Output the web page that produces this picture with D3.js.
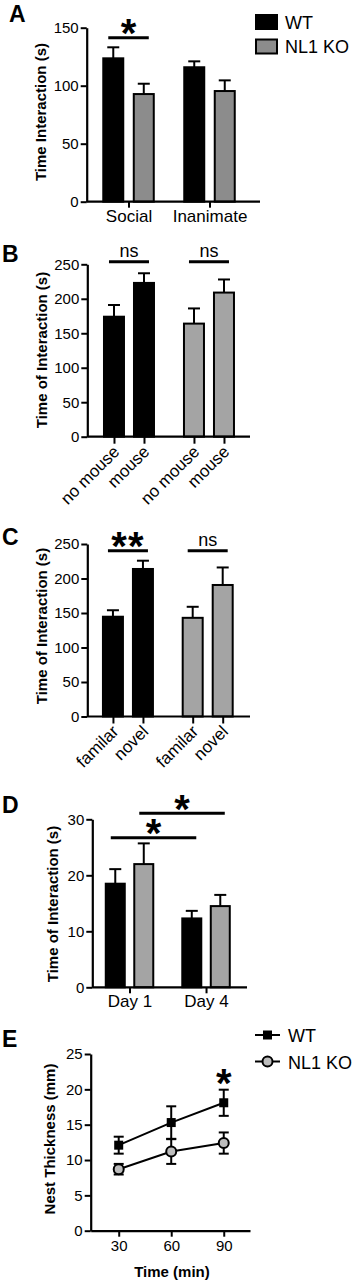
<!DOCTYPE html>
<html><head><meta charset="utf-8">
<script src="https://cdn.jsdelivr.net/npm/d3@7"></script>
<style>
body{margin:0;background:#fff}
svg{display:block}
text{font-family:'Liberation Sans',Arial,Helvetica,sans-serif}
</style>
</head><body><script>
// ================= DATA =================
const seriesNames = ["WT", "NL1 KO"];

// Panel A
const aCategories = ["Social", "Inanimate"];
const aWT = [123.6, 115.9];
const aWTsem = [9.5, 5.1];
const aKO = [92.8, 95.4];
const aKOsem = [8.9, 9.2];
const aTicks = [0, 50, 100, 150];
const aTitle = "Time Interaction (s)";
const aSig = [{ a: ["Social", "WT"], b: ["Social", "NL1 KO"], level: 141.4, label: "*" }];

// Panel B
const bConditions = ["no mouse", "mouse"];
const bWT = [174, 223];
const bWTsem = [17, 14];
const bKO = [164, 209];
const bKOsem = [22, 19];
const bTicks = [0, 50, 100, 150, 200, 250];
const bTitle = "Time of Interaction (s)";
const bSig = [
  { a: ["WT", "no mouse"], b: ["WT", "mouse"], level: 253.8, label: "ns" },
  { a: ["NL1 KO", "no mouse"], b: ["NL1 KO", "mouse"], level: 253.8, label: "ns" }
];

// Panel C
const cConditions = ["familar", "novel"];
const cWT = [144.6, 213.8];
const cWTsem = [9.4, 12];
const cKO = [143, 190.6];
const cKOsem = [16, 25.4];
const cTicks = [0, 50, 100, 150, 200, 250];
const cTitle = "Time of Interaction (s)";
const cSig = [
  { a: ["WT", "familar"], b: ["WT", "novel"], level: 240.3, label: "**" },
  { a: ["NL1 KO", "familar"], b: ["NL1 KO", "novel"], level: 240.3, label: "ns" }
];

// Panel D
const dCategories = ["Day 1", "Day 4"];
const dWT = [18.5, 12.3];
const dWTsem = [2.6, 1.35];
const dKO = [22.0, 14.5];
const dKOsem = [3.7, 2.0];
const dTicks = [0, 10, 20, 30];
const dTitle = "Time of Interaction (s)";
const dSig = [
  { a: ["Day 1", "WT"], b: ["Day 4", "WT"], level: 26.7, label: "*" },
  { a: ["Day 1", "NL1 KO"], b: ["Day 4", "NL1 KO"], level: 31.1, label: "*" }
];

// Panel E
const eTimes = [30, 60, 90];
const eWT = [12.1, 15.3, 18.1];
const eWTsem = [1.2, 2.3, 1.85];
const eKO = [8.7, 11.2, 12.4];
const eKOsem = [0.75, 1.75, 1.5];
const eTicks = [0, 5, 10, 15, 20, 25];
const eTitle = "Nest Thickness  (mm)";
const eXTitle = "Time (min)";
const eSigTimes = [90];

// ================= DRAWING =================
const svg = d3.select("body").append("svg").attr("width", 355).attr("height", 1280);

function panelLetter(t, x, y) {
  svg.append("text").attr("x", x).attr("y", y).attr("font-size", 23).attr("font-weight", "bold").text(t);
}

function star(g, label, cx, cy, size) {
  g.append("text").attr("x", cx).attr("y", cy + size * 0.56).attr("text-anchor", "middle")
    .attr("font-size", size).attr("font-weight", "bold")
    .attr("letter-spacing", label.length > 1 ? 1 : 0)
    .text(label);
}

function yAxis(g, y, x0, ticks) {
  const ax = g.append("g").attr("transform", `translate(${x0},0)`)
    .call(d3.axisLeft(y).tickValues(ticks).tickSize(6).tickSizeOuter(0).tickPadding(2));
  ax.select(".domain").attr("stroke-width", 2.2);
  ax.selectAll(".tick line").attr("stroke-width", 2);
  ax.selectAll(".tick text").attr("font-size", 15).attr("font-family", null);
  return ax;
}

function yTitle(g, text, x, cy) {
  g.append("text").attr("transform", `translate(${x},${cy}) rotate(-90)`).attr("text-anchor", "middle")
    .attr("font-size", 15).attr("font-weight", "bold").text(text);
}

function barPanel(p) {
  const g = svg.append("g");
  const y = d3.scaleLinear().domain(p.yDomain).range(p.yRange);
  const xo = d3.scalePoint().domain(p.outer).range(p.xRange).padding(p.padding).align(p.align);
  const xi = d3.scaleBand().domain(p.inner).range([-p.half, p.half]).paddingInner(p.innerPad);
  const bw = xi.bandwidth();
  const bars = [];
  p.outer.forEach((o, oi) => p.inner.forEach((s, si) => {
    bars.push({ key: o + "|" + s, o, s, v: p.value(oi, si), e: p.sem(oi, si), fill: p.fill(oi, si), x: xo(o) + xi(s) });
  }));
  const byKey = new Map(bars.map(d => [d.key, d]));

  g.selectAll(".err").data(bars).join("line").attr("class", "err")
    .attr("x1", d => d.x + bw / 2).attr("x2", d => d.x + bw / 2)
    .attr("y1", d => y(d.v)).attr("y2", d => y(d.v + d.e))
    .attr("stroke", "#000").attr("stroke-width", 2);
  g.selectAll(".cap").data(bars).join("line").attr("class", "cap")
    .attr("x1", d => d.x + bw / 2 - 6).attr("x2", d => d.x + bw / 2 + 6)
    .attr("y1", d => y(d.v + d.e)).attr("y2", d => y(d.v + d.e))
    .attr("stroke", "#000").attr("stroke-width", 2);
  g.selectAll(".bar").data(bars).join("rect").attr("class", "bar")
    .attr("x", d => d.x + 1).attr("y", d => y(d.v))
    .attr("width", bw - 2).attr("height", d => y(0) - y(d.v))
    .attr("fill", d => d.fill).attr("stroke", "#000").attr("stroke-width", 2);

  yAxis(g, y, p.xRange[0], p.ticks);
  yTitle(g, p.title, p.titleX, p.titleY);

  g.append("line").attr("x1", p.xRange[0]).attr("x2", p.xRange[1])
    .attr("y1", y(0)).attr("y2", y(0)).attr("stroke", "#000").attr("stroke-width", 2.2);

  if (p.tickPerBar) {
    const keys = bars.map(d => d.key);
    const tickScale = d3.scaleOrdinal().domain(keys).range(bars.map(d => d.x + bw / 2));
    const ax = g.append("g").attr("transform", `translate(0,${y(0)})`)
      .call(d3.axisBottom(tickScale).tickSize(7).tickFormat(k => byKey.get(k).s));
    ax.select(".domain").remove();
    ax.selectAll(".tick line").attr("stroke-width", 2);
    ax.selectAll(".tick text").attr("font-size", 17).attr("font-family", null)
      .attr("text-anchor", "end").attr("x", 0).attr("y", 0).attr("dy", 0)
      .attr("transform", "translate(6,16) rotate(-45)");
  } else {
    const ax = g.append("g").attr("transform", `translate(0,${y(0)})`)
      .call(d3.axisBottom(xo).tickSize(6).tickPadding(2));
    ax.select(".domain").remove();
    ax.selectAll(".tick line").attr("stroke-width", 2);
    ax.selectAll(".tick text").attr("font-size", 17).attr("font-family", null);
  }

  p.sig.forEach(s => {
    const A = byKey.get(s.a.join("|")), B = byKey.get(s.b.join("|"));
    const x1 = A.x + 6, x2 = B.x + bw - 6, ly = y(s.level);
    g.append("line").attr("x1", x1).attr("x2", x2).attr("y1", ly).attr("y2", ly)
      .attr("stroke", "#000").attr("stroke-width", 3);
    const cx = (x1 + x2) / 2;
    if (s.label === "ns") {
      g.append("text").attr("x", cx).attr("y", ly - 5).attr("text-anchor", "middle")
        .attr("font-size", 18).text("ns");
    } else {
      star(g, s.label, cx, ly - 13, 40);
    }
  });
  return g;
}

const BLACK = "#000";
const GRAY_A = "#8c8c8c";
const GRAY = "#a4a4a4";

// ---- Panel A ----
panelLetter("A", 9, 22);
barPanel({
  outer: aCategories, inner: seriesNames,
  value: (oi, si) => [aWT, aKO][si][oi], sem: (oi, si) => [aWTsem, aKOsem][si][oi],
  fill: (oi, si) => si === 0 ? BLACK : GRAY_A,
  yDomain: [0, 150], yRange: [201.7, 27.7], ticks: aTicks,
  xRange: [86.7, 260], padding: 0.57, align: 0.453, half: 26.25, innerPad: 0.279,
  title: aTitle, titleX: 46, titleY: 112, sig: aSig, tickPerBar: false
});
const legA = svg.append("g");
seriesNames.forEach((n, i) => {
  legA.append("rect").attr("x", 256).attr("y", 15 + i * 24.5).attr("width", 21).attr("height", 14)
    .attr("fill", i === 0 ? BLACK : GRAY_A).attr("stroke", "#000").attr("stroke-width", 2);
  legA.append("text").attr("x", 285).attr("y", 28.5 + i * 24.5).attr("font-size", 18).text(n);
});

// ---- Panel B ----
panelLetter("B", 2, 262);
barPanel({
  outer: seriesNames, inner: bConditions,
  value: (oi, si) => [bWT, bKO][oi][si], sem: (oi, si) => [bWTsem, bKOsem][oi][si],
  fill: (oi, si) => oi === 0 ? BLACK : GRAY,
  yDomain: [0, 250], yRange: [436.7, 264.3], ticks: bTicks,
  xRange: [87.3, 250], padding: 0.517, align: 0.504, half: 26, innerPad: 0.267,
  title: bTitle, titleX: 47, titleY: 350, sig: bSig, tickPerBar: true
});

// ---- Panel C ----
panelLetter("C", 2, 545);
barPanel({
  outer: seriesNames, inner: cConditions,
  value: (oi, si) => [cWT, cKO][oi][si], sem: (oi, si) => [cWTsem, cKOsem][oi][si],
  fill: (oi, si) => oi === 0 ? BLACK : GRAY,
  yDomain: [0, 250], yRange: [716.5, 544], ticks: cTicks,
  xRange: [87.3, 250], padding: 0.52, align: 0.49, half: 26, innerPad: 0.267,
  title: cTitle, titleX: 47, titleY: 626, sig: cSig, tickPerBar: true
});

// ---- Panel D ----
panelLetter("D", 2, 813);
barPanel({
  outer: dCategories, inner: seriesNames,
  value: (oi, si) => [dWT, dKO][si][oi], sem: (oi, si) => [dWTsem, dKOsem][si][oi],
  fill: (oi, si) => si === 0 ? BLACK : GRAY,
  yDomain: [0, 30], yRange: [987.3, 819.3], ticks: dTicks,
  xRange: [92.3, 247], padding: 0.511, align: 0.476, half: 24.75, innerPad: 0.263,
  title: dTitle, titleX: 58, titleY: 904, sig: dSig, tickPerBar: false
});

// ---- Panel E ----
panelLetter("E", 2, 1047);
(function () {
  const g = svg.append("g");
  const x = d3.scaleLinear().domain([14, 105]).range([90.7, 250]);
  const y = d3.scaleLinear().domain([0, 25]).range([1230.7, 1054]);
  const series = [
    { name: seriesNames[0], vals: eWT, sem: eWTsem, shape: "square" },
    { name: seriesNames[1], vals: eKO, sem: eKOsem, shape: "circle" }
  ];
  const line = d3.line().x((d, i) => x(eTimes[i])).y(d => y(d));
  series.forEach(s => {
    g.append("path").attr("d", line(s.vals)).attr("fill", "none").attr("stroke", "#000").attr("stroke-width", 2);
  });
  series.forEach(s => {
    const pts = s.vals.map((v, i) => ({ t: eTimes[i], v, e: s.sem[i] }));
    g.selectAll(null).data(pts).join("line")
      .attr("x1", d => x(d.t)).attr("x2", d => x(d.t))
      .attr("y1", d => y(d.v - d.e)).attr("y2", d => y(d.v + d.e))
      .attr("stroke", "#000").attr("stroke-width", 2);
    [1, -1].forEach(sg => {
      g.selectAll(null).data(pts).join("line")
        .attr("x1", d => x(d.t) - 5).attr("x2", d => x(d.t) + 5)
        .attr("y1", d => y(d.v + sg * d.e)).attr("y2", d => y(d.v + sg * d.e))
        .attr("stroke", "#000").attr("stroke-width", 2);
    });
  });
  series.forEach(s => {
    const pts = s.vals.map((v, i) => ({ t: eTimes[i], v }));
    if (s.shape === "square") {
      g.selectAll(null).data(pts).join("rect")
        .attr("x", d => x(d.t) - 4.5).attr("y", d => y(d.v) - 4.5)
        .attr("width", 9).attr("height", 9).attr("fill", "#000");
    } else {
      g.selectAll(null).data(pts).join("circle")
        .attr("cx", d => x(d.t)).attr("cy", d => y(d.v)).attr("r", 5)
        .attr("fill", "#bdbdbd").attr("stroke", "#000").attr("stroke-width", 2);
    }
  });
  yAxis(g, y, x.range()[0], eTicks);
  const ax = g.append("g").attr("transform", `translate(0,${y(0)})`)
    .call(d3.axisBottom(x).tickValues(eTimes).tickSize(6).tickSizeOuter(0).tickPadding(4));
  ax.select(".domain").attr("stroke-width", 2.2);
  ax.selectAll(".tick line").attr("stroke-width", 2);
  ax.selectAll(".tick text").attr("font-size", 15).attr("font-family", null);
  yTitle(g, eTitle, 55, 1139);
  g.append("text").attr("x", 172).attr("y", 1277).attr("text-anchor", "middle")
    .attr("font-size", 15).attr("font-weight", "bold").text(eXTitle);
  eSigTimes.forEach(t => {
    const i = eTimes.indexOf(t);
    star(g, "*", x(t), y(eWT[i] + eWTsem[i]) - 15, 40);
  });
  series.forEach((s, i) => {
    const ly = 1035 + i * 26.5;
    g.append("line").attr("x1", 255).attr("x2", 280).attr("y1", ly).attr("y2", ly)
      .attr("stroke", "#000").attr("stroke-width", 2);
    if (s.shape === "square") {
      g.append("rect").attr("x", 267.5 - 4.5).attr("y", ly - 4.5).attr("width", 9).attr("height", 9).attr("fill", "#000");
    } else {
      g.append("circle").attr("cx", 267.5).attr("cy", ly).attr("r", 5)
        .attr("fill", "#bdbdbd").attr("stroke", "#000").attr("stroke-width", 2);
    }
    g.append("text").attr("x", 288).attr("y", ly + 7).attr("font-size", 18).text(s.name);
  });
})();
</script></body></html>
